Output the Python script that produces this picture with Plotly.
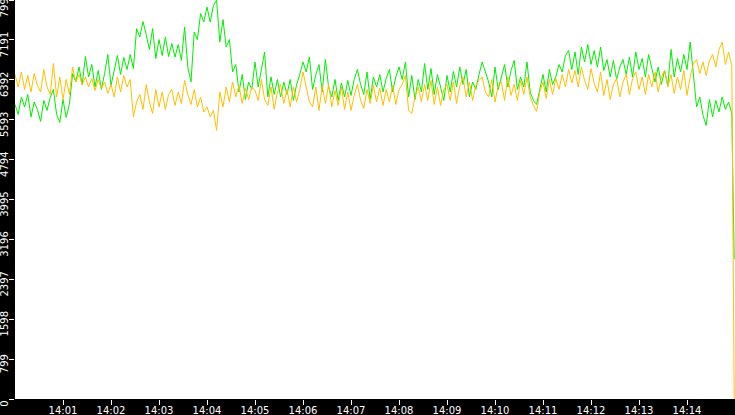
import datetime as dt
import plotly.graph_objects as go

# samples every 4 s from 14:00:00, last sample (the drop) at 14:14:59
start = dt.datetime(2024, 1, 1, 14, 0, 0)
times = [start + dt.timedelta(seconds=4 * i) for i in range(225)]
times.append(start + dt.timedelta(minutes=14, seconds=59))

green_vals = [
    5900, 5700, 6050, 5850, 6100, 5650, 5950, 5800, 5560, 5980,
    5780, 6040, 6200, 5700, 5540, 6000, 5640, 5900, 6520, 6350,
    6650, 6300, 6860, 6450, 6700, 6250, 6580, 6200, 6520, 6900,
    6280, 6560, 6880, 6500, 6840, 6600, 6900, 6620, 7420, 7250,
    7560, 7300, 7000, 7420, 6820, 7200, 6880, 7250, 6860, 7120,
    6850, 7100, 6780, 7450, 6650, 6350, 7350, 7200, 7720, 7550,
    7850, 7550, 7880, 7990, 7150, 7600, 7050, 7200, 6550, 6700,
    6150, 6500, 6000, 6350, 6200, 6750, 6250, 6600, 6950, 6050,
    6450, 6100, 6400, 6050, 6350, 6100, 6400, 5980, 6300, 6500,
    6750, 6550, 6850, 6200, 6500, 6700, 6150, 6800, 6250, 6050,
    6400, 5980, 6330, 6050, 6380, 6080, 6400, 6600, 6300, 6100,
    6550, 6000, 6450, 6250, 6500, 6150, 6420, 6600, 6150, 6450,
    6650, 6400, 6750, 6050, 6480, 6000, 6400, 6150, 6720, 6200,
    6620, 6100, 6500, 6250, 5980, 6480, 6150, 6560, 6250, 6650,
    6300, 6600, 6050, 6350, 6200, 6500, 6750, 6550, 6350, 6050,
    6650, 6200, 6480, 6700, 6250, 6580, 6780, 6200, 6450, 6250,
    6750, 6150, 5980, 5900, 6200, 6500, 6150, 6600, 6300, 6450,
    6700, 6550, 6880, 6980, 6600, 6950, 6500, 7050, 6750, 7100,
    6700, 6980, 6650, 7050, 6580, 6800, 6450, 6780, 6400, 6650,
    6800, 6500, 6850, 6450, 6950, 6600, 6820, 6450, 6900, 6600,
    6350, 6650, 6300, 6580, 6280, 7000, 6450, 6820, 6550, 6900,
    6600, 7150, 6450, 5850, 6050, 5680, 5480, 6000, 5650, 5980,
    5750, 6050, 5800, 5950, 5720, 2800,
]

amber_vals = [
    6500, 6250, 6550, 6200, 6480, 6150, 6520, 6280, 6150, 6600,
    6250, 6100, 6720, 6050, 6450, 6000, 6400, 6100, 6650, 6350,
    6500, 6300, 6450, 6250, 6420, 6180, 6400, 6220, 6350, 6120,
    6300, 6050, 6450, 6150, 6480, 6250, 6400, 5650, 5950, 6100,
    5800, 6300, 5950, 5720, 6200, 5850, 6150, 5800, 6100, 6200,
    5880, 6150, 5920, 6380, 6100, 5900, 6200, 5850, 6050, 5750,
    5850, 5650, 5780, 5380, 6150, 5850, 6250, 5950, 6350, 6050,
    6280, 5920, 6220, 6000, 6250, 6180, 5980, 6400, 6000, 5880,
    6250, 5800, 6150, 6300, 5920, 6200, 5850, 6250, 5950, 6200,
    6550, 6250, 5950, 5850, 6250, 5780, 6280, 5920, 6300, 5850,
    6180, 5880, 6250, 5800, 6150, 5780, 6080, 6300, 5980, 5820,
    6200, 5920, 6280, 5950, 6230, 5880, 6200, 5950, 6280, 5900,
    6200, 6300, 6480, 5780, 5720, 6050, 6250, 5950, 6300, 5980,
    6380, 5900, 6250, 5880, 6200, 6300, 5980, 6350, 5920, 6280,
    6450, 6050, 6350, 5980, 6280, 6380, 6450, 6150, 6050, 6400,
    5950, 6280, 6350, 5980, 6450, 6080, 6300, 5980, 6380, 6100,
    6450, 6050, 5880, 5760, 6150, 6350, 6020, 6400, 6100, 6420,
    6200, 6500, 6250, 6600, 6330, 6580, 6250, 6650, 6380, 6200,
    6620, 6320, 6150, 6550, 6080, 6400, 6000, 6300, 6420, 6050,
    6350, 6500, 6100, 6420, 6550, 6200, 6450, 6100, 6500, 6250,
    6550, 6150, 6450, 6580, 6250, 6500, 6120, 6450, 6200, 6580,
    6080, 6450, 6720, 6800, 6520, 6750, 6480, 6780, 6900, 6650,
    7000, 7150, 6700, 6950, 6680, 0,
]

y_ticks = [0, 799, 1598, 2397, 3196, 3995, 4794, 5593, 6392, 7191, 7990]
x_ticks = [dt.datetime(2024, 1, 1, 14, m) for m in range(1, 15)]

fig = go.Figure()
fig.add_trace(go.Scatter(x=times, y=green_vals, mode="lines",
                         line=dict(color="#00ee00", width=1)))
fig.add_trace(go.Scatter(x=times, y=amber_vals, mode="lines",
                         line=dict(color="#ffbf00", width=1)))

fig.update_layout(
    width=735, height=415,
    margin=dict(l=15, r=0, t=0, b=16),
    paper_bgcolor="black", plot_bgcolor="white",
    showlegend=False,
    font=dict(family="DejaVu Sans", size=10, color="white"),
)
fig.update_xaxes(
    range=[start, start + dt.timedelta(minutes=15)],
    tickvals=x_ticks, tickformat="%H:%M",
    ticks="outside", ticklen=5, tickcolor="white", ticklabelstandoff=-3,
    showgrid=False, zeroline=False, showline=False, automargin=False,
)
fig.update_yaxes(
    range=[0, 7992], tickvals=y_ticks, tickangle=-90,
    ticks="outside", ticklen=5, tickcolor="white",
    ticklabelshift=6, ticklabelstandoff=-3, ticklabeloverflow="allow",
    showgrid=False, zeroline=False, showline=False, automargin=False,
)

# page body has a default 8px margin; drop it so the figure sits at 0,0
fig.write_html("out.html", config={"displayModeBar": False},
               post_script="document.body.style.margin='0';")
